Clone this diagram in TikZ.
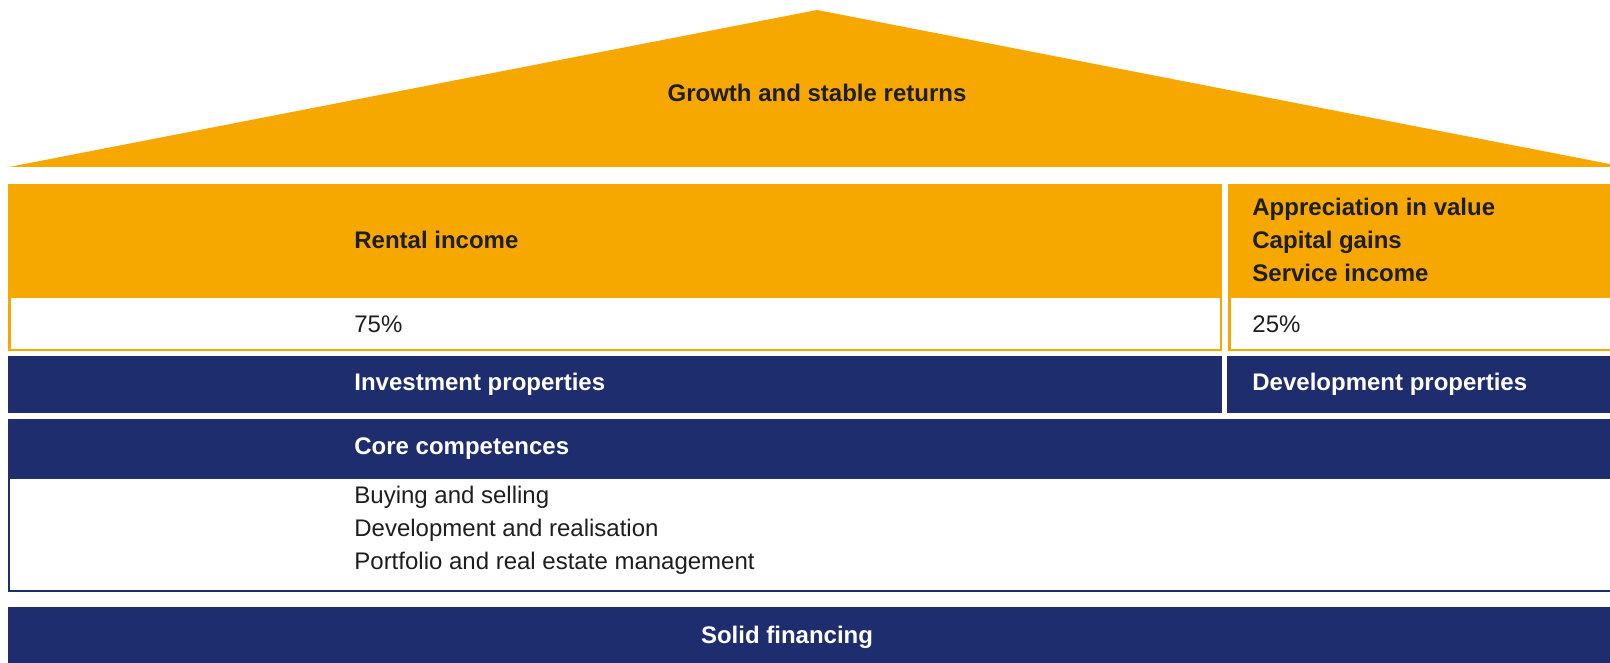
\documentclass[tikz,border=0pt]{standalone}
\usepackage{fontspec}
\setmainfont{Liberation Sans}
\usetikzlibrary{positioning}
\definecolor{roofyellow}{HTML}{F6A800}
\definecolor{navyblue}{HTML}{1E2D6E}
\definecolor{txtdark}{HTML}{1E1E1E}

\tikzset{
  lbl/.style={anchor=west, inner sep=0pt, align=left, text=txtdark,
    font=\fontsize{12}{16.5}\selectfont},
  blbl/.style={lbl, font=\fontsize{12}{16.5}\selectfont\bfseries},
  wlbl/.style={blbl, text=white},
}

\begin{document}
\begin{tikzpicture}[x=0.5pt, y=-0.5pt]
\path[use as bounding box, clip] (0,0) rectangle (1610,663);
% roof
\fill[roofyellow] (9,167) -- (817,10) -- (1625,167) -- cycle;
\node[blbl, anchor=center] (growth) at (817,93) {Growth and stable returns};
% income row
\fill[roofyellow] (8,184) rectangle (1222,297);
\fill[roofyellow] (1228,184) rectangle (1640,297);
\draw[roofyellow, line width=1.25pt] (9.25,297) rectangle (1220.75,349.75);
\draw[roofyellow, line width=1.25pt] (1229.25,297) rectangle (1640,349.75);
\node[blbl] (rental) at (354,240) {Rental income};
\node[blbl] (apprec) at (1252,240) {Appreciation in value\\Capital gains\\Service income};
\node[lbl] (share75) at (354,324) {75\%};
\node[lbl] (share25) at (1252,324) {25\%};
% properties
\foreach \xa/\xb in {8/1222, 1227/1640} \fill[navyblue] (\xa,356) rectangle (\xb,413);
\node[wlbl] (invest) at (354,384) {Investment properties};
\node[wlbl] (develop) at (1252,384) {Development properties};
% competences
\draw[navyblue, line width=1.1pt] (9.1,478) rectangle (1640,591);
\fill[navyblue] (8,419) rectangle (1640,478);
\node[wlbl] (core) at (354,449) {Core competences};
\node[lbl] (skills) at (354,530) {Buying and selling\\Development and realisation\\Portfolio and real estate management};
% financing
\fill[navyblue] (8,607) rectangle (1640,680);
\node[wlbl, anchor=center] (finance) at (787,637) {Solid financing};
\end{tikzpicture}
\end{document}
